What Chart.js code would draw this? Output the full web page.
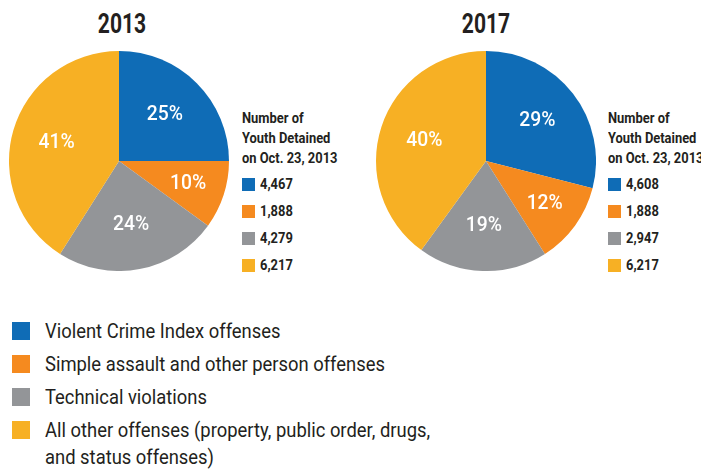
<!DOCTYPE html>
<html>
<head>
<meta charset="utf-8">
<script src="https://cdn.jsdelivr.net/npm/chart.js@4"></script>
<style>
  body { margin: 0; width: 701px; height: 469px; background: #fff; overflow: hidden;
         font-family: "Roboto", sans-serif; color: #231f20; }
  .title { position: absolute; top: 8px; width: 120px; text-align: center;
           font-weight: bold; font-size: 27px; transform: scaleX(0.78); transform-origin: center; }
  canvas { position: absolute; }
  .side { position: absolute; top: 108px; font-weight: bold; font-size: 15px; line-height: 20px; white-space: nowrap; }
  .side .row { position: relative; height: 27px; padding-left: 18px; line-height: 27px; }
  .side .txt { display: inline-block; transform: scaleX(0.86); transform-origin: left; }
  .side .head { margin-bottom: 3px; }
  .side .sw { position: absolute; left: 0; top: 7px; width: 13px; height: 13px; }
  .legend { position: absolute; left: 12px; top: 318px; font-size: 20px; }
  .legend .item { position: relative; padding-left: 33px; line-height: 27px; margin-bottom: 6px; }
  .legend .txt { display: inline-block; transform: scaleX(0.92); transform-origin: left; white-space: nowrap; }
  .legend .sw { position: absolute; left: 0; top: 4px; width: 18px; height: 18px; }
</style>
</head>
<body>
<div class="title" id="t0" style="left:62px"></div>
<div class="title" id="t1" style="left:426px"></div>
<canvas id="pie0" width="220" height="220" style="left:9px; top:51px"></canvas>
<canvas id="pie1" width="220" height="220" style="left:376px; top:51px"></canvas>
<div class="side" id="side0" style="left:242px"></div>
<div class="side" id="side1" style="left:608px"></div>
<div class="legend" id="legend"></div>
<script>
// data
var years = ['2013', '2017'];
var categories = [
  'Violent Crime Index offenses',
  'Simple assault and other person offenses',
  'Technical violations',
  'All other offenses (property, public order, drugs, and status offenses)'
];
var pct2013 = [25, 10, 24, 41];
var pct2017 = [29, 12, 19, 40];
var count2013 = [4467, 1888, 4279, 6217];
var count2017 = [4608, 1888, 2947, 6217];
var sideHeading = 'Number of<br>Youth Detained<br>on Oct. 23, 2013';

var colors = ['#0f6cb6', '#f58a1f', '#939598', '#f7b024'];
var font = '"Roboto", sans-serif';

var pctLabels = {
  id: 'pctLabels',
  afterDatasetsDraw: function(chart) {
    var ctx = chart.ctx;
    var meta = chart.getDatasetMeta(0);
    ctx.save();
    ctx.fillStyle = '#fff';
    ctx.font = '500 21px ' + font;
    ctx.textAlign = 'center';
    ctx.textBaseline = 'middle';
    meta.data.forEach(function(arc, i) {
      var p = arc.getProps(['x', 'y', 'startAngle', 'endAngle', 'outerRadius'], true);
      var mid = (p.startAngle + p.endAngle) / 2;
      var f = chart.data.datasets[0].data[i] < 15 ? 0.66 : 0.59;
      var r = p.outerRadius * f;
      ctx.save();
      ctx.translate(p.x + Math.cos(mid) * r, p.y + Math.sin(mid) * r);
      ctx.scale(0.92, 1);
      ctx.fillText(chart.data.datasets[0].data[i] + '%', 0, 0);
      ctx.restore();
    });
    ctx.restore();
  }
};

function makePie(id, values) {
  new Chart(document.getElementById(id), {
    type: 'pie',
    data: {
      labels: categories,
      datasets: [{ data: values, backgroundColor: colors, borderWidth: 0 }]
    },
    options: {
      responsive: false,
      animation: false,
      layout: { padding: 0 },
      plugins: { legend: { display: false }, tooltip: { enabled: false } }
    },
    plugins: [pctLabels]
  });
}

function makeSide(id, counts) {
  var html = '<div class="head"><span class="txt">' + sideHeading + '</span></div>';
  for (var i = 0; i < counts.length; i++) {
    html += '<div class="row"><span class="sw" style="background:' + colors[i] + '"></span><span class="txt">' +
      counts[i].toLocaleString('en-US') + '</span></div>';
  }
  document.getElementById(id).innerHTML = html;
}

document.getElementById('t0').textContent = years[0];
document.getElementById('t1').textContent = years[1];
makePie('pie0', pct2013);
makePie('pie1', pct2017);
makeSide('side0', count2013);
makeSide('side1', count2017);

var lg = '';
var legendLines = [categories[0], categories[1], categories[2],
  'All other offenses (property, public order, drugs,<br>and status offenses)'];
for (var i = 0; i < legendLines.length; i++) {
  lg += '<div class="item"><span class="sw" style="background:' + colors[i] + '"></span><span class="txt">' + legendLines[i] + '</span></div>';
}
document.getElementById('legend').innerHTML = lg;
</script>
</body>
</html>
